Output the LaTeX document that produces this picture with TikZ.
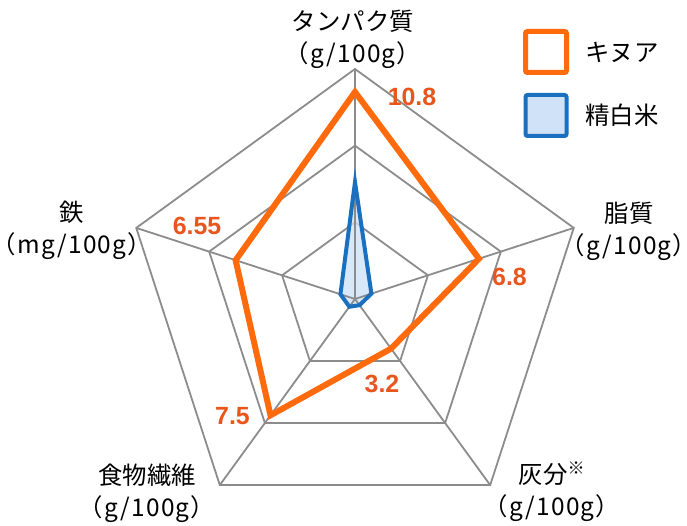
\documentclass[tikz,border=0pt]{standalone}
\usepackage{fontspec}
\setmainfont{Noto Sans CJK JP}
\newfontfamily\unitfont{Noto Sans CJK JP}[LetterSpace=5]
\newfontfamily\numfont{Liberation Sans}
\definecolor{quinoa}{HTML}{FF6A0D}
\definecolor{quinoalabel}{HTML}{E8561C}
\definecolor{rice}{HTML}{1A6FBF}
\definecolor{ricefill}{HTML}{CFE2F7}
\definecolor{gridgray}{HTML}{8C8C8C}
\newcommand{\perunit}[1]{{\unitfont （#1/100g）}}
\tikzset{
  gridline/.style={draw=gridgray, line width=1.8bp},
  axislabel/.style={font=\fontsize{24.5}{32}\selectfont, align=center, inner sep=0},
  value/.style={font=\numfont\bfseries\fontsize{25}{30}\selectfont, text=quinoalabel, inner sep=0},
  legendtext/.style={font=\fontsize{24.5}{28}\selectfont, anchor=west, inner sep=0},
}
\begin{document}
\begin{tikzpicture}[x=1bp, y=1bp]
      \useasboundingbox (0,0) rectangle (687,526);
      \begin{scope}[shift={(355,227)}, x=19.1667bp, y=19.1667bp]
        \coordinate (c) at (0,0);
        \draw[gridline]
          (90:12) coordinate (t3) -- (18:12) coordinate (f3) -- (-54:12) coordinate (a3)
          -- (-126:12) coordinate (d3) -- (162:12) coordinate (i3) -- cycle;
        \draw[gridline] (90:8) -- (18:8) -- (-54:8) -- (-126:8) -- (162:8) -- cycle;
        \draw[gridline] (90:4) -- (18:4) -- (-54:4) -- (-126:4) -- (162:4) -- cycle;
        \fill[ricefill, fill opacity=0.8]
          (90:6.1) -- (18:0.9) -- (-54:0.4) -- (-126:0.5) -- (162:0.8) -- cycle;
        \begin{scope}[gridline]
          \draw (c) to (t3);
          \draw (c) to (f3);
          \draw (c) to (a3);
          \draw (c) to (d3);
          \draw (c) to (i3);
        \end{scope}
        \draw[rice, line width=4bp]
          (90:6.1) -- (18:0.9) -- (-54:0.4) -- (-126:0.5) -- (162:0.8) -- cycle;
        \draw[quinoa, line width=6bp]
          (90:10.8) -- (18:6.8) -- (-54:3.2) -- (-126:7.5) -- (162:6.55) -- cycle;
      \end{scope}
      \node[axislabel] (protein) at (353,487) {タンパク質\\\perunit{g}};
      \node[axislabel] (fat) at (629,295) {脂質\\\perunit{g}};
      \node[axislabel] (ash) at (552,34) {灰分\textsuperscript{※}\\\perunit{g}};
      \node[axislabel] (fiber) at (147,33) {食物繊維\\\perunit{g}};
      \node[axislabel] (iron) at (72,296) {鉄\\\perunit{mg}};
      \node[value] (vprotein) at (412,429) {10.8};
      \node[value] (vfat) at (509.5,249) {6.8};
      \node[value] (vash) at (382,142) {3.2};
      \node[value] (vfiber) at (232.5,110) {7.5};
      \node[value] (viron) at (197,300.5) {6.55};
      \node[draw=quinoa, line width=5bp, rounded corners=2bp, minimum size=41bp, inner sep=0] (kq) at (546,474) {};
      \node[draw=rice, fill=ricefill, line width=4bp, rounded corners=2bp, minimum size=41bp, inner sep=0] (kr) at (546,410.5) {};
      \node[legendtext] (lq) at (585,474) {キヌア};
      \node[legendtext] (lr) at (585,410.5) {精白米};
    \end{tikzpicture}
\end{document}
